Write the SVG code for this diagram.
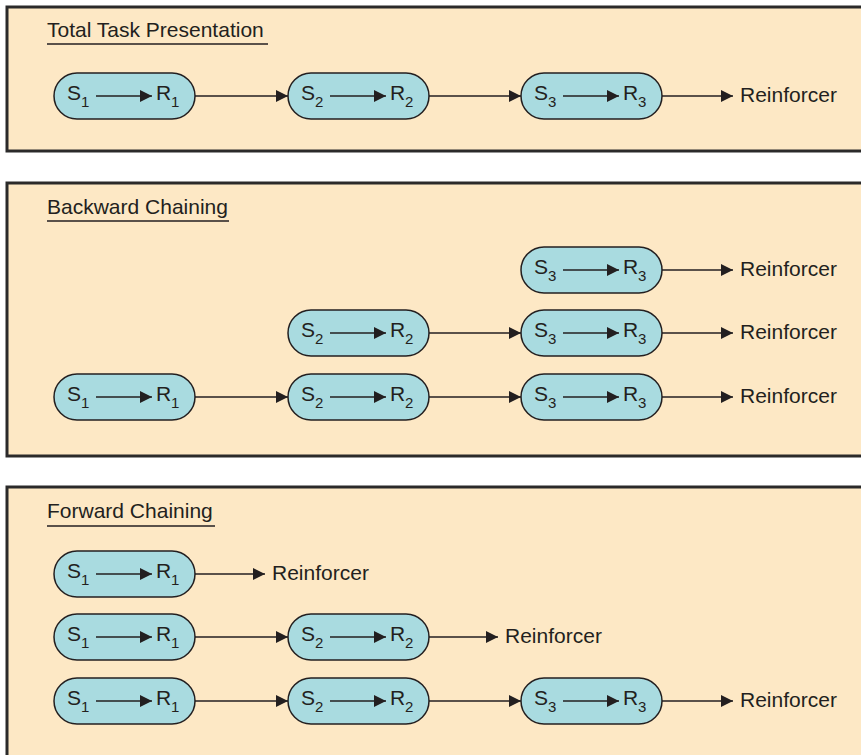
<svg xmlns="http://www.w3.org/2000/svg" xmlns:xlink="http://www.w3.org/1999/xlink" width="861" height="755" viewBox="0 0 861 755">
<style>
.panel{fill:#fde8c5;stroke:#2b2a2a;stroke-width:3}
.pill{fill:#a9dbe0;stroke:#231f20;stroke-width:1.5}
.t{font-family:"Liberation Sans",Arial,sans-serif;font-size:21px;fill:#231f20}
.sub{font-family:"Liberation Sans",Arial,sans-serif;font-size:15px;fill:#231f20}
.ln{stroke:#231f20;stroke-width:1.3;fill:none;marker-end:url(#ah)}
.ul{stroke:#231f20;stroke-width:1.3}
</style>
<defs>
<marker id="ah" markerUnits="userSpaceOnUse" markerWidth="12" markerHeight="12" refX="12" refY="6" orient="auto">
<path d="M0,0 L12,6 L0,12 z" fill="#231f20"/>
</marker>
</defs>
<rect width="861" height="755" fill="#ffffff"/>
<g id="panels">
<rect class="panel" x="7" y="7" width="870" height="144"/>
<rect class="panel" x="7" y="183" width="870" height="273"/>
<rect class="panel" x="7" y="487" width="870" height="290"/>
</g>
<g id="titles">
<text class="t" x="47" y="37">Total Task Presentation</text>
<line class="ul" x1="47" y1="44" x2="268" y2="44"/>
<text class="t" x="47" y="214">Backward Chaining</text>
<line class="ul" x1="47" y1="221" x2="229" y2="221"/>
<text class="t" x="47" y="518">Forward Chaining</text>
<line class="ul" x1="47" y1="526" x2="215" y2="526"/>
</g>
<g id="p1-n1" transform="translate(54,96)"><rect class="pill" x="0" y="-23" width="141" height="46" rx="23"/><text class="t" x="13" y="4">S</text><text class="sub" x="27" y="11">1</text><line class="ln" x1="42" y1="0" x2="98" y2="0"/><text class="t" x="102" y="4">R</text><text class="sub" x="117" y="11">1</text></g>
<g id="p1-n2" transform="translate(288,96)"><rect class="pill" x="0" y="-23" width="141" height="46" rx="23"/><text class="t" x="13" y="4">S</text><text class="sub" x="27" y="11">2</text><line class="ln" x1="42" y1="0" x2="98" y2="0"/><text class="t" x="102" y="4">R</text><text class="sub" x="117" y="11">2</text></g>
<g id="p1-n3" transform="translate(521,96)"><rect class="pill" x="0" y="-23" width="141" height="46" rx="23"/><text class="t" x="13" y="4">S</text><text class="sub" x="27" y="11">3</text><line class="ln" x1="42" y1="0" x2="98" y2="0"/><text class="t" x="102" y="4">R</text><text class="sub" x="117" y="11">3</text></g>
<g id="p1-r"><text class="t" x="740" y="102">Reinforcer</text></g>

<g id="p2a-n3" transform="translate(521,270)"><rect class="pill" x="0" y="-23" width="141" height="46" rx="23"/><text class="t" x="13" y="4">S</text><text class="sub" x="27" y="11">3</text><line class="ln" x1="42" y1="0" x2="98" y2="0"/><text class="t" x="102" y="4">R</text><text class="sub" x="117" y="11">3</text></g>
<g id="p2a-r"><text class="t" x="740" y="276">Reinforcer</text></g>
<g id="p2b-n2" transform="translate(288,333)"><rect class="pill" x="0" y="-23" width="141" height="46" rx="23"/><text class="t" x="13" y="4">S</text><text class="sub" x="27" y="11">2</text><line class="ln" x1="42" y1="0" x2="98" y2="0"/><text class="t" x="102" y="4">R</text><text class="sub" x="117" y="11">2</text></g>
<g id="p2b-n3" transform="translate(521,333)"><rect class="pill" x="0" y="-23" width="141" height="46" rx="23"/><text class="t" x="13" y="4">S</text><text class="sub" x="27" y="11">3</text><line class="ln" x1="42" y1="0" x2="98" y2="0"/><text class="t" x="102" y="4">R</text><text class="sub" x="117" y="11">3</text></g>
<g id="p2b-r"><text class="t" x="740" y="339">Reinforcer</text></g>
<g id="p2c-n1" transform="translate(54,397)"><rect class="pill" x="0" y="-23" width="141" height="46" rx="23"/><text class="t" x="13" y="4">S</text><text class="sub" x="27" y="11">1</text><line class="ln" x1="42" y1="0" x2="98" y2="0"/><text class="t" x="102" y="4">R</text><text class="sub" x="117" y="11">1</text></g>
<g id="p2c-n2" transform="translate(288,397)"><rect class="pill" x="0" y="-23" width="141" height="46" rx="23"/><text class="t" x="13" y="4">S</text><text class="sub" x="27" y="11">2</text><line class="ln" x1="42" y1="0" x2="98" y2="0"/><text class="t" x="102" y="4">R</text><text class="sub" x="117" y="11">2</text></g>
<g id="p2c-n3" transform="translate(521,397)"><rect class="pill" x="0" y="-23" width="141" height="46" rx="23"/><text class="t" x="13" y="4">S</text><text class="sub" x="27" y="11">3</text><line class="ln" x1="42" y1="0" x2="98" y2="0"/><text class="t" x="102" y="4">R</text><text class="sub" x="117" y="11">3</text></g>
<g id="p2c-r"><text class="t" x="740" y="403">Reinforcer</text></g>

<g id="p3a-n1" transform="translate(54,574)"><rect class="pill" x="0" y="-23" width="141" height="46" rx="23"/><text class="t" x="13" y="4">S</text><text class="sub" x="27" y="11">1</text><line class="ln" x1="42" y1="0" x2="98" y2="0"/><text class="t" x="102" y="4">R</text><text class="sub" x="117" y="11">1</text></g>
<g id="p3a-r"><text class="t" x="272" y="580">Reinforcer</text></g>
<g id="p3b-n1" transform="translate(54,637)"><rect class="pill" x="0" y="-23" width="141" height="46" rx="23"/><text class="t" x="13" y="4">S</text><text class="sub" x="27" y="11">1</text><line class="ln" x1="42" y1="0" x2="98" y2="0"/><text class="t" x="102" y="4">R</text><text class="sub" x="117" y="11">1</text></g>
<g id="p3b-n2" transform="translate(288,637)"><rect class="pill" x="0" y="-23" width="141" height="46" rx="23"/><text class="t" x="13" y="4">S</text><text class="sub" x="27" y="11">2</text><line class="ln" x1="42" y1="0" x2="98" y2="0"/><text class="t" x="102" y="4">R</text><text class="sub" x="117" y="11">2</text></g>
<g id="p3b-r"><text class="t" x="505" y="643">Reinforcer</text></g>
<g id="p3c-n1" transform="translate(54,701)"><rect class="pill" x="0" y="-23" width="141" height="46" rx="23"/><text class="t" x="13" y="4">S</text><text class="sub" x="27" y="11">1</text><line class="ln" x1="42" y1="0" x2="98" y2="0"/><text class="t" x="102" y="4">R</text><text class="sub" x="117" y="11">1</text></g>
<g id="p3c-n2" transform="translate(288,701)"><rect class="pill" x="0" y="-23" width="141" height="46" rx="23"/><text class="t" x="13" y="4">S</text><text class="sub" x="27" y="11">2</text><line class="ln" x1="42" y1="0" x2="98" y2="0"/><text class="t" x="102" y="4">R</text><text class="sub" x="117" y="11">2</text></g>
<g id="p3c-n3" transform="translate(521,701)"><rect class="pill" x="0" y="-23" width="141" height="46" rx="23"/><text class="t" x="13" y="4">S</text><text class="sub" x="27" y="11">3</text><line class="ln" x1="42" y1="0" x2="98" y2="0"/><text class="t" x="102" y="4">R</text><text class="sub" x="117" y="11">3</text></g>
<g id="p3c-r"><text class="t" x="740" y="707">Reinforcer</text></g>

<g id="connectors">
<line class="ln" x1="195" y1="96" x2="288" y2="96"/>
<line class="ln" x1="429" y1="96" x2="521" y2="96"/>
<line class="ln" x1="662" y1="96" x2="733" y2="96"/>
<line class="ln" x1="662" y1="270" x2="733" y2="270"/>
<line class="ln" x1="429" y1="333" x2="521" y2="333"/>
<line class="ln" x1="662" y1="333" x2="733" y2="333"/>
<line class="ln" x1="195" y1="397" x2="288" y2="397"/>
<line class="ln" x1="429" y1="397" x2="521" y2="397"/>
<line class="ln" x1="662" y1="397" x2="733" y2="397"/>
<line class="ln" x1="195" y1="574" x2="265" y2="574"/>
<line class="ln" x1="195" y1="637" x2="288" y2="637"/>
<line class="ln" x1="429" y1="637" x2="498" y2="637"/>
<line class="ln" x1="195" y1="701" x2="288" y2="701"/>
<line class="ln" x1="429" y1="701" x2="521" y2="701"/>
<line class="ln" x1="662" y1="701" x2="733" y2="701"/>
</g>
</svg>
